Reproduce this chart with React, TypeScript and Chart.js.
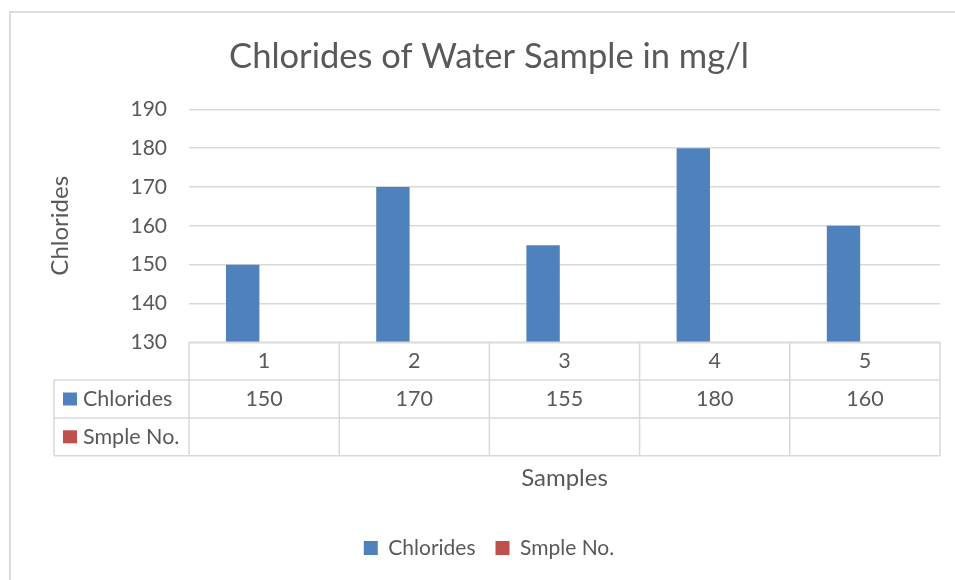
import React, { useEffect, useRef } from "react";
import { Chart, registerables } from "chart.js";

Chart.register(...registerables);

const categories = ["1", "2", "3", "4", "5"];
const chlorides = [150, 170, 155, 180, 160];
const sampleNo: (number | null)[] = [null, null, null, null, null];
const yTicks = [130, 140, 150, 160, 170, 180, 190];
const seriesNames = ["Chlorides", "Smple No."];
const seriesColors = ["#4F81BD", "#C0504D"];
const titleText = "Chlorides of Water Sample in mg/l";
const yTitleText = "Chlorides";
const xTitleText = "Samples";

const TEXT = "#595959";
const GRID = "#d9d9d9";
const FONT = "Lato, 'Open Sans', sans-serif";

const ROW_H = 37.8;
const LABEL_LEFT = 54;

const tablePlugin = {
  id: "dataTable",
  afterDraw(chart: any) {
    const { ctx, chartArea, scales } = chart;
    const xs = scales.x;
    const top = chartArea.bottom;
    const left = chartArea.left;
    const right = chartArea.right;
    const n = chart.data.labels.length;
    const cw = (right - left) / n;
    const rows = 1 + chart.data.datasets.length;
    ctx.save();
    ctx.strokeStyle = GRID;
    ctx.lineWidth = 1.5;
    ctx.beginPath();
    ctx.moveTo(left, top);
    ctx.lineTo(right, top);
    for (let r = 1; r <= rows; r++) {
      ctx.moveTo(LABEL_LEFT, top + r * ROW_H);
      ctx.lineTo(right, top + r * ROW_H);
    }
    for (let i = 0; i <= n; i++) {
      const xx = left + i * cw;
      ctx.moveTo(xx, top);
      ctx.lineTo(xx, top + rows * ROW_H);
    }
    ctx.moveTo(LABEL_LEFT, top + ROW_H);
    ctx.lineTo(LABEL_LEFT, top + rows * ROW_H);
    ctx.stroke();

    ctx.font = `21.5px ${FONT}`;
    ctx.fillStyle = TEXT;
    ctx.textAlign = "center";
    ctx.textBaseline = "middle";
    chart.data.labels.forEach((c: string, i: number) => {
      const cx = xs.getPixelForValue(i);
      ctx.fillText(String(c), cx, top + ROW_H / 2);
      chart.data.datasets.forEach((ds: any, j: number) => {
        const v = ds.data[i];
        if (v !== null && v !== undefined) {
          ctx.fillText(String(v), cx, top + (1.5 + j) * ROW_H);
        }
      });
    });
    chart.data.datasets.forEach((ds: any, j: number) => {
      const cy = top + (1.5 + j) * ROW_H;
      ctx.fillStyle = ds.backgroundColor;
      ctx.fillRect(63, cy - 6.5, 14, 13);
      ctx.fillStyle = TEXT;
      ctx.textAlign = "left";
      ctx.fillText(ds.label, 83, cy);
    });
    ctx.restore();
  },
};

export default function App() {
  const ref = useRef<HTMLCanvasElement>(null);
  useEffect(() => {
    Chart.defaults.font.family = FONT;
    Chart.defaults.color = TEXT;
    const chart = new Chart(ref.current as HTMLCanvasElement, {
      type: "bar",
      data: {
        labels: categories,
        datasets: [
          {
            label: seriesNames[0],
            data: chlorides,
            backgroundColor: seriesColors[0],
            borderWidth: 0,
            categoryPercentage: 0.57,
            barPercentage: 0.78,
          },
          {
            label: seriesNames[1],
            data: sampleNo,
            backgroundColor: seriesColors[1],
            borderWidth: 0,
            categoryPercentage: 0.57,
            barPercentage: 0.78,
          },
        ],
      },
      options: {
        responsive: false,
        animation: false,
        layout: { padding: { left: 38, right: 15, top: 0, bottom: 11.5 } },
        plugins: {
          title: {
            display: true,
            text: titleText,
            color: TEXT,
            font: { size: 34.5, weight: "normal", family: FONT },
            padding: { top: 36, bottom: 31.9 },
          },
          legend: {
            display: true,
            position: "bottom",
            labels: {
              boxWidth: 14,
              boxHeight: 14,
              padding: 20,
              color: TEXT,
              font: { size: 21, family: FONT },
            },
          },
          tooltip: { enabled: false },
        },
        scales: {
          x: {
            grid: { display: false },
            border: { display: false },
            ticks: { display: false },
            title: {
              display: true,
              text: xTitleText,
              color: TEXT,
              font: { size: 24, family: FONT },
              padding: { top: 0, bottom: 25 },
            },
            afterFit: (s: any) => {
              s.height = 175.2;
            },
          },
          y: {
            min: 130,
            max: 190,
            afterBuildTicks: (s: any) => {
              s.ticks = yTicks.map((v) => ({ value: v }));
            },
            grid: { color: GRID, lineWidth: 1.5, drawTicks: false },
            border: { display: false },
            ticks: {
              padding: 22,
              color: TEXT,
              font: { size: 21, family: FONT },
            },
            title: {
              display: true,
              text: yTitleText,
              color: TEXT,
              font: { size: 24, family: FONT },
              padding: { top: 7.6, bottom: 0 },
            },
            afterFit: (s: any) => {
              s.width = 151;
            },
          },
        },
      },
      plugins: [tablePlugin],
    });
    return () => chart.destroy();
  }, []);
  return (
    <div
      style={{
        position: "fixed",
        left: 0,
        top: 0,
        width: 955,
        height: 580,
        overflow: "hidden",
        background: "#fff",
      }}
    >
      <div
        style={{
          position: "absolute",
          left: 9,
          top: 11,
          width: 1000,
          height: 1000,
          borderLeft: "2px solid #dcdcdc",
          borderTop: "2px solid #dcdcdc",
        }}
      />
      <canvas
        ref={ref}
        width={955}
        height={580}
        style={{ position: "absolute", left: 0, top: 0 }}
      />
    </div>
  );
}
